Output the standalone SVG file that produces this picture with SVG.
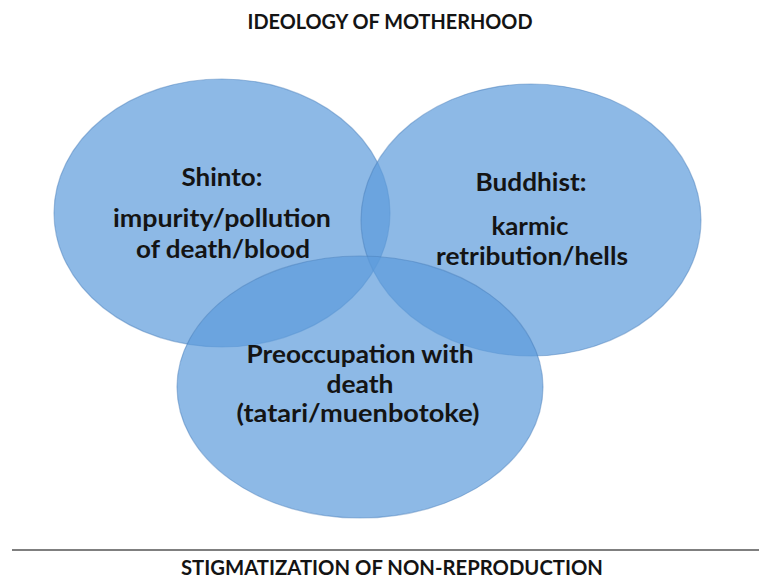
<svg xmlns="http://www.w3.org/2000/svg" width="759" height="580" viewBox="0 0 759 580">
  <style>
    .bg { fill: #ffffff; }
    .circ { fill: rgb(92,155,219); fill-opacity: 0.7; stroke: rgb(70,125,185); stroke-opacity: 0.45; stroke-width: 1.2; }
    .lbl { font-family: Lato, "Open Sans", "Liberation Sans", sans-serif; font-weight: 700; font-size: 25px; fill: #141414; text-anchor: middle; }
    .hdr { font-family: Lato, "Open Sans", "Liberation Sans", sans-serif; font-weight: 700; font-size: 21px; fill: #141414; text-anchor: middle; }
  </style>
  <rect class="bg" x="0" y="0" width="759" height="580"/>
  <text class="hdr" x="390" y="29" textLength="285" lengthAdjust="spacingAndGlyphs">IDEOLOGY OF MOTHERHOOD</text>

  <g id="shinto">
    <ellipse class="circ" cx="222" cy="213" rx="168" ry="134"/>
    <text class="lbl" x="222" y="186" textLength="81" lengthAdjust="spacingAndGlyphs">Shinto:</text>
    <text class="lbl" x="222" y="227" textLength="218" lengthAdjust="spacingAndGlyphs">impurity/pollution</text>
    <text class="lbl" x="223" y="258" textLength="174" lengthAdjust="spacingAndGlyphs">of death/blood</text>
  </g>
  <g id="buddhist">
    <ellipse class="circ" cx="531" cy="220" rx="170" ry="136"/>
    <text class="lbl" x="531" y="191" textLength="111" lengthAdjust="spacingAndGlyphs">Buddhist:</text>
    <text class="lbl" x="530" y="235" textLength="77" lengthAdjust="spacingAndGlyphs">karmic</text>
    <text class="lbl" x="532" y="265" textLength="192" lengthAdjust="spacingAndGlyphs">retribution/hells</text>
  </g>
  <g id="death">
    <ellipse class="circ" cx="360" cy="387" rx="183" ry="131"/>
    <text class="lbl" x="360" y="363" textLength="227" lengthAdjust="spacingAndGlyphs">Preoccupation with</text>
    <text class="lbl" x="360" y="393" textLength="67" lengthAdjust="spacingAndGlyphs">death</text>
    <text class="lbl" x="358" y="422" textLength="243" lengthAdjust="spacingAndGlyphs">(tatari/muenbotoke)</text>
  </g>
  <!-- re-draw labels above overlapping ellipses -->
  <g id="connectors">
    <line x1="12" y1="550" x2="759" y2="550" stroke="#555555" stroke-width="1.6"/>
  </g>
  <text class="hdr" x="392" y="575" textLength="422" lengthAdjust="spacingAndGlyphs">STIGMATIZATION OF NON-REPRODUCTION</text>
</svg>
